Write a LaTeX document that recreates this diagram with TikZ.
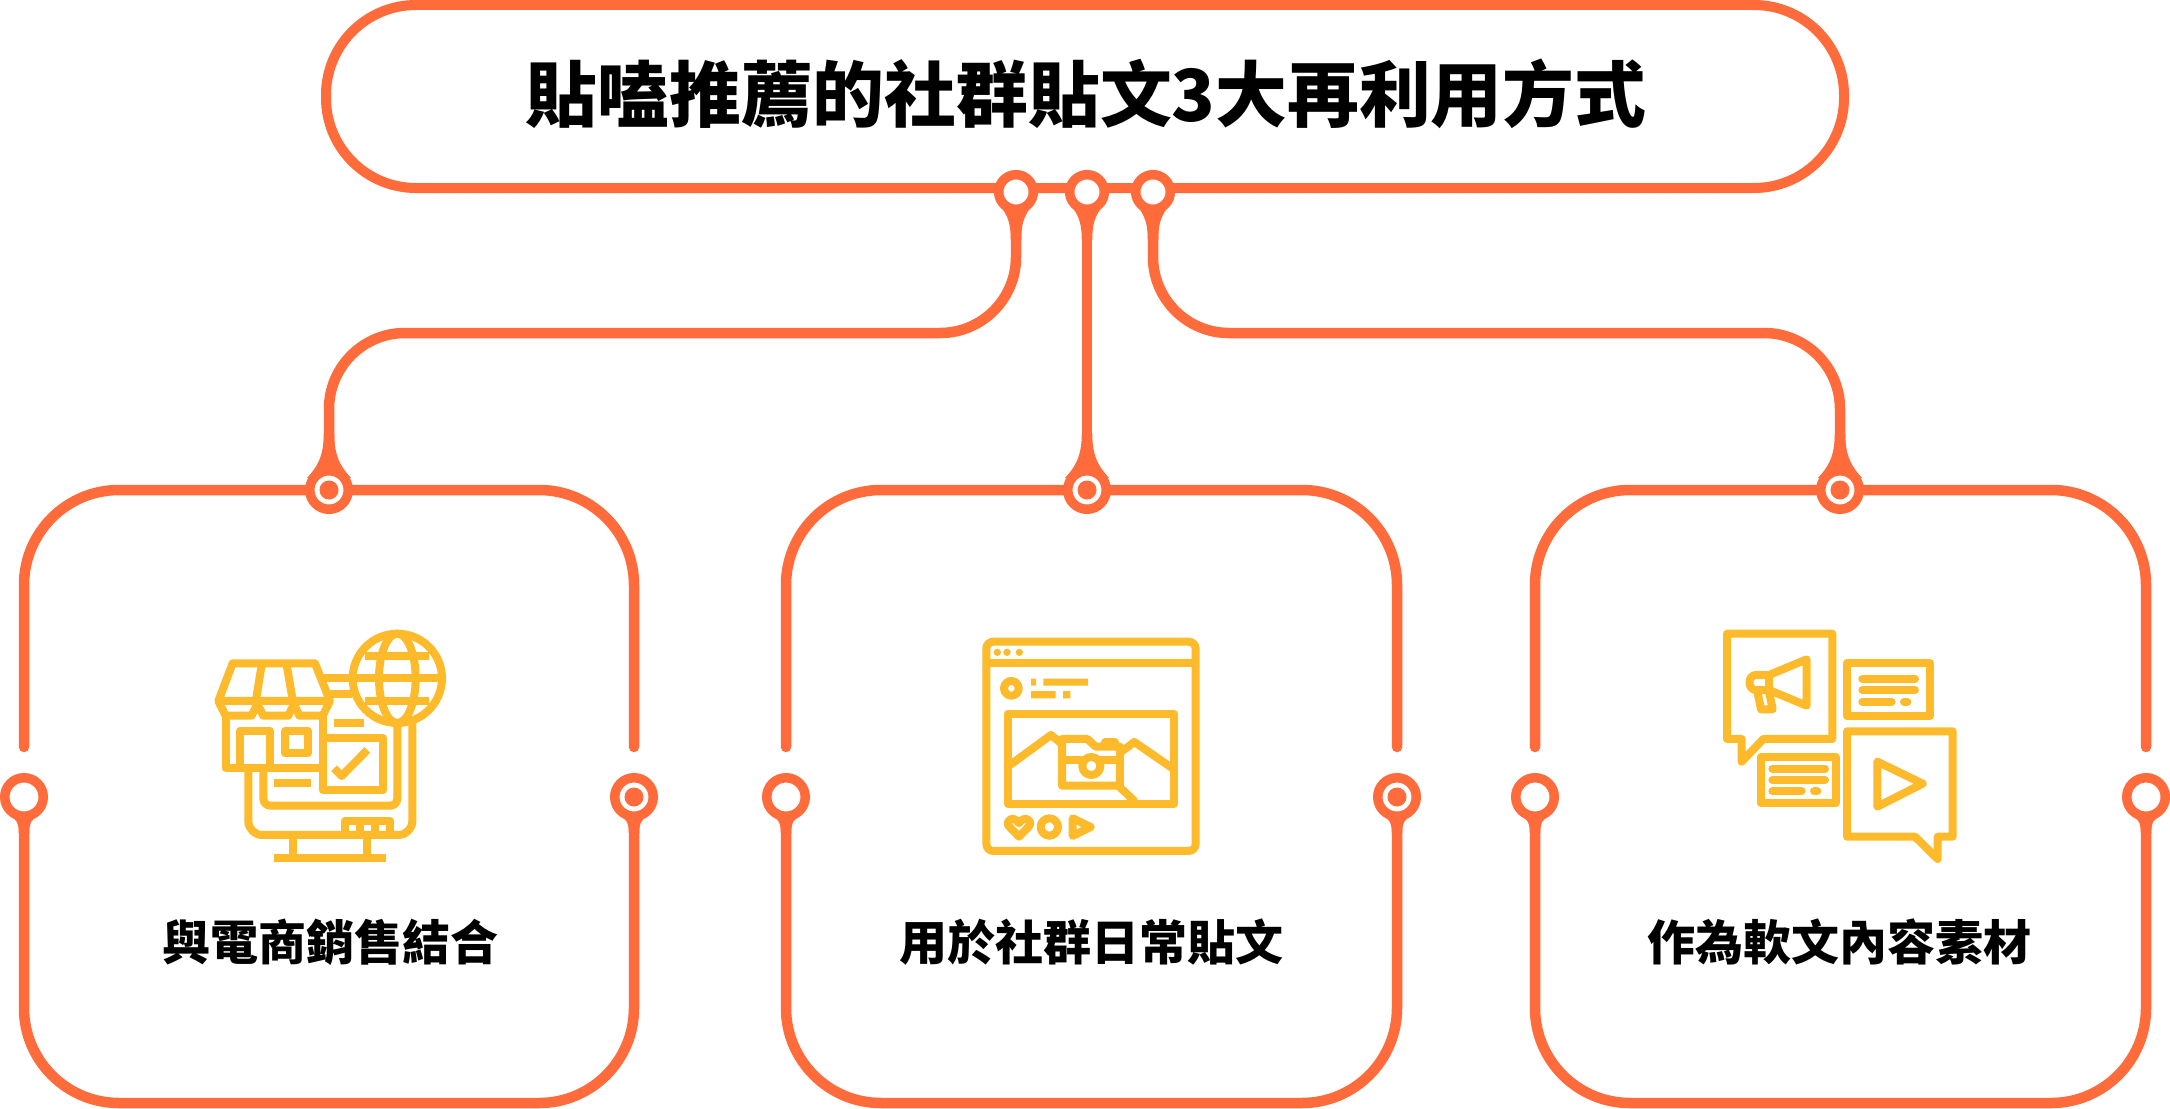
\documentclass[tikz,border=0pt]{standalone}
\usepackage{fontspec}
\newfontfamily\cjk{Noto Sans CJK TC}
\definecolor{ora}{HTML}{FF6B3A}
\definecolor{yel}{HTML}{FDBA2A}
\pgfdeclarelayer{bg}
\pgfsetlayers{bg,main}
\tikzset{
  line/.style={draw=ora,line width=10.5pt,line cap=round},
  pinbig/.style={circle,draw=ora,line width=9.5pt,fill=white,minimum size=38.5pt,inner sep=0pt,outer sep=0pt},
  pinsmall/.style={circle,draw=ora,line width=9.5pt,fill=white,minimum size=34.6pt,inner sep=0pt,outer sep=0pt},
  pindot/.style={circle,fill=ora,minimum size=19pt,inner sep=0pt,outer sep=0pt},
  label/.style={font=\cjk\bfseries\fontsize{48}{50}\selectfont,text=black,inner sep=0pt},
  icon/.style={draw=yel,line width=8pt,line join=round,line cap=butt},
  rr/.style={draw=yel,line width=8pt,line cap=round,line join=round},
}
\newcommand{\neckA}[1]{\begin{scope}[shift={(#1.center)}]\fill[ora] (-19,10) .. controls (-11,20) and (-5.25,26) .. (-5.25,48) -- (5.25,48) .. controls (5.25,26) and (11,20) .. (19,10) -- cycle;\end{scope}}
\newcommand{\neckB}[1]{\begin{scope}[shift={(#1.center)},rotate=180]\fill[ora] (-22,12) .. controls (-13,22) and (-5.25,32) .. (-5.25,56) -- (5.25,56) .. controls (5.25,32) and (13,22) .. (22,12) -- cycle;\end{scope}}
\newcommand{\neckC}[1]{\begin{scope}[shift={(#1.center)}]\fill[ora] (-16,17) .. controls (-8,22) and (-5.25,25) .. (-5.25,36) -- (5.25,36) .. controls (5.25,25) and (8,22) .. (16,17) -- cycle;\end{scope}}
\newcommand{\cardshape}[4]{% left right name-left name-right
  \draw[line,rounded corners=95pt] (#1,747) -- (#1,490) -- (#2,490) -- (#2,747);
  \draw[line,rounded corners=95pt,line cap=butt] (#3.center) -- (#1,1103) -- (#2,1103) -- (#4.center);
}
\begin{document}
\begin{tikzpicture}[x=1pt,y=-1pt]
\useasboundingbox (0,0) rectangle (2170,1108);
\begin{pgfonlayer}{bg}
\fill[white] (0,0) rectangle (2170,1108);
\end{pgfonlayer}
% title
\node[draw=ora,line width=10pt,rounded corners=90pt,minimum width=1518pt,minimum height=183pt,inner sep=0pt,outer sep=0pt] (title) at (1085,96.5) {};
\node[font=\cjk\bfseries\fontsize{71.8}{76}\selectfont,inner sep=0pt] (titletext) at (1086,94) {貼嗑推薦的社群貼文3大再利用方式};
% pins on title
\node[pinsmall] (ta) at (1016,192) {};
\node[pinsmall] (tb) at (1087,192) {};
\node[pinsmall] (tc) at (1153,192) {};
% top pins of the cards
\node[pinbig] (ca) at (329,490) {};
\node[pinbig] (cb) at (1087,490) {};
\node[pinbig] (cc) at (1840,490) {};
\node[pindot] (cad) at (ca) {};
\node[pindot] (cbd) at (cb) {};
\node[pindot] (ccd) at (cc) {};
% side pins
\node[pinbig] (al) at (24,797) {};
\node[pinbig] (ar) at (634,797) {};
\node[pindot] (ard) at (ar) {};
\node[pinbig] (bl) at (786,797) {};
\node[pinbig] (br) at (1397,797) {};
\node[pindot] (brd) at (br) {};
\node[pinbig] (dl) at (1535,797) {};
\node[pinbig] (dr) at (2146,797) {};
% labels
\node[label] (la) at (330,942) {與電商銷售結合};
\node[label] (lb) at (1091,942) {用於社群日常貼文};
\node[label] (lc) at (1839,942) {作為軟文內容素材};
\coordinate (ma) at (1016,333);
\coordinate (mc) at (1153,333);
\begin{pgfonlayer}{bg}
\cardshape{24}{634}{al}{ar}
\cardshape{786}{1397}{bl}{br}
\cardshape{1535}{2146}{dl}{dr}
\draw[line,line cap=butt,rounded corners=76pt] (ta.center) -- (ma) -| (ca.center);
\draw[line,line cap=butt] (tb.center) -- (cb.center);
\draw[line,line cap=butt,rounded corners=76pt] (tc.center) -- (mc) -| (cc.center);
\neckA{ta}\neckA{tb}\neckA{tc}
\neckB{ca}\neckB{cb}\neckB{cc}
\neckC{al}\neckC{ar}\neckC{bl}\neckC{br}\neckC{dl}\neckC{dr}
\end{pgfonlayer}
% icon 1: shop, monitor, globe
\begin{scope}[shift={(180,600)},x=0.3333pt,y=-0.3333pt]
\draw[icon,rounded corners=7pt] (652,375) -- (652,617) -- (250,617) -- (250,515);
\draw[icon,rounded corners=14pt] (697,370) -- (697,705) -- (205,705) -- (205,515);
\draw[icon] (338,715) -- (338,773) (562,715) -- (562,773) (282,773) -- (618,773);
\draw[icon] (495,705) -- (495,662) -- (630,662) -- (630,705) (540,662) -- (540,705) (585,662) -- (585,705);
\draw[icon] (428,340) -- (428,571) -- (608,571) -- (608,414) -- (428,414);
\draw[icon] (462,505) -- (485,528) -- (562,450);
\draw[icon] (462,370) -- (552,370) (282,549) -- (394,549);
\draw[icon] (425,235) -- (515,235) (450,281) -- (515,281);
\draw[icon] (158,190) -- (405,190) -- (450,303) -- (115,303) -- cycle;
\draw[icon] (245,195) -- (228,300) (320,195) -- (338,300);
\draw[icon] (115,303) -- (137,347) -- (215,347) -- (232,312) -- (250,347) -- (325,347) -- (342,312) -- (358,347) -- (428,347) -- (450,303);
\draw[icon] (137,347) -- (137,505) -- (428,505);
\draw[icon] (180,505) -- (180,392) -- (270,392) -- (270,505);
\draw[icon] (315,392) rectangle (383,460);
\draw[icon,fill=white] (652,235) circle[radius=134];
\draw[icon] (652,235) ellipse[x radius=55,y radius=134];
\draw[icon] (518,235) -- (786,235) (556,168) -- (748,168) (556,303) -- (748,303);
\end{scope}
% icon 2: browser window with photo
\begin{scope}[shift={(950,620)},x=0.3333pt,y=-0.3333pt]
\draw[rr,rounded corners=7pt] (109,65) rectangle (737,693);
\draw[icon] (109,130) -- (737,130);
\fill[yel] (142,97) circle[radius=11] (171,97) circle[radius=11] (208,97) circle[radius=11];
\draw[icon] (184,205) circle[radius=22];
\fill[yel] (243,176) rectangle (258,197) (280,176) rectangle (414,197) (243,213) rectangle (317,235) (339,213) rectangle (361,235);
\draw[rr] (173,281) rectangle (672,552);
\draw[rr] (173,440) -- (303,345) -- (336,372) (672,448) -- (553,366) -- (510,398);
\draw[rr] (510,497) -- (336,497) -- (336,357) -- (412,357) -- (437,380) -- (510,380) -- cycle;
\draw[rr] (465,367) -- (495,367);
\draw[icon] (336,421) -- (510,421);
\draw[icon,fill=white] (424,438) circle[radius=27];
\draw[icon] (508,500) -- (555,545);
\draw[rr] (207,650) -- (176,618) .. controls (165,600) and (192,585) .. (207,610) .. controls (222,585) and (249,600) .. (238,618) -- cycle;
\draw[icon] (298,621) circle[radius=26];
\draw[rr] (368,595) -- (422,621) -- (368,648) -- cycle;
\end{scope}
% icon 3: speech bubbles
\begin{scope}[shift={(1700,610)},x=0.3333pt,y=-0.3333pt]
\draw[rr] (81,71) -- (397,71) -- (397,387) -- (190,387) -- (125,455) -- (125,387) -- (81,387) -- cycle;
\draw[rr] (207,195) -- (320,148) -- (320,287) -- (207,240) -- cycle;
\draw[rr] (207,195) -- (168,195) .. controls (142,195) and (142,240) .. (168,240) -- (207,240);
\draw[rr] (172,245) -- (183,298) -- (218,298) -- (207,245);
\draw[rr] (441,160) rectangle (690,318);
\draw[rr] (487,206) -- (645,206) (487,240) -- (645,240) (487,275) -- (575,275) (612,275) -- (622,275);
\draw[rr] (182,442) rectangle (408,578);
\draw[rr] (217,476) -- (375,476) (217,510) -- (375,510) (217,544) -- (305,544) (342,544) -- (352,544);
\draw[rr] (441,364) -- (758,364) -- (758,680) -- (713,680) -- (713,747) -- (645,680) -- (441,680) -- cycle;
\draw[rr] (532,455) -- (668,521) -- (532,590) -- cycle;
\end{scope}
\end{tikzpicture}
\end{document}
